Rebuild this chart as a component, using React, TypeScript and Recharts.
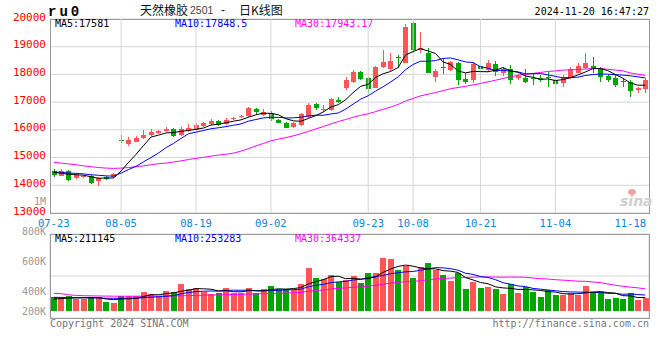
import React from 'react';
import { ComposedChart, Bar, Line, XAxis, YAxis, ReferenceArea, ReferenceLine, CartesianGrid } from 'recharts';

const dates = ['07-23','07-24','07-25','07-26','07-29','07-30','07-31','08-01','08-02','08-05','08-06','08-07','08-08','08-09','08-12','08-13','08-14','08-15','08-16','08-19','08-20','08-21','08-22','08-23','08-26','08-27','08-28','08-29','08-30','09-02','09-03','09-04','09-05','09-06','09-09','09-10','09-11','09-12','09-13','09-18','09-19','09-20','09-23','09-24','09-25','09-26','09-27','09-30','10-08','10-09','10-10','10-11','10-14','10-15','10-16','10-17','10-18','10-21','10-22','10-23','10-24','10-25','10-28','10-29','10-30','10-31','11-01','11-04','11-05','11-06','11-07','11-08','11-11','11-12','11-13','11-14','11-15','11-18','11-19','11-20'];

const opens = [14520,14350,14530,14260,14300,14330,14150,14300,14270,15630,15490,15573,15717,15814,15880,15959,16031,15800,15984,15995,16139,16211,16330,16211,16391,16453,16500,16741,16536,16619,16355,16258,16092,16175,16453,16920,16700,16716,17080,17499,17701,18098,17860,17535,18279,18207,18618,18423,19866,18900,18784,17896,18257,18160,18400,17846,17799,18304,18185,18365,18062,18185,17860,17882,17870,17870,17900,17799,17680,17860,18062,18220,18320,18243,17954,17860,17780,17737,17438,17463];
const highs = [14600,14580,14550,14450,14380,14370,14300,14330,14430,15814,15753,15778,15995,16020,15995,16103,16067,16114,16211,16258,16294,16381,16350,16440,16460,16547,16835,16800,16741,16680,16380,16290,16280,16600,16960,16970,16900,17140,17200,17918,18160,18123,17918,18290,18881,18762,18700,19820,19902,19541,18942,18196,18582,18500,18459,18040,18437,18340,18520,18484,18280,18340,18000,18185,18040,17980,18100,17900,17980,18257,18423,18762,18640,18280,18015,17979,17860,17799,17535,17860];
const lows = [14300,14320,14170,14220,14280,14040,13970,14200,14250,15515,15428,15544,15681,15778,15850,15912,15753,15767,15933,15959,16092,16175,16150,16180,16340,16420,16480,16572,16500,16330,16230,16060,16070,16150,16420,16700,16650,16680,16960,17438,17680,17799,17294,17500,18220,18134,18220,18400,18756,18762,18040,17737,18015,18130,17618,17654,17701,17860,18098,17943,17950,17654,17800,17680,17618,17740,17535,17438,17535,17840,18040,18200,18040,17737,17737,17535,17535,17175,17319,17340];
const closes = [14370,14530,14190,14380,14350,14080,14270,14230,14390,15623,15634,15717,15814,15922,15959,16031,15790,16031,16078,16175,16258,16330,16175,16355,16440,16500,16800,16620,16655,16391,16258,16092,16236,16572,16897,16777,16750,17100,17020,17800,18076,17860,17463,18279,18448,18484,18582,19722,18900,18960,18062,18123,18206,18448,17773,17737,18365,18185,18423,18062,18196,17773,17943,17737,17840,17810,17860,17654,17896,18185,18304,18400,18260,17918,17799,17618,17730,17412,17499,17799];

const ma5 = [14470,14430,14400,14380,14364,14306,14254,14262,14264,14519,14829,15119,15436,15742,15809,15889,15903,15947,15978,16021,16066,16174,16203,16259,16312,16360,16454,16543,16603,16593,16545,16403,16326,16310,16411,16515,16646,16819,16909,17089,17349,17571,17644,17896,18025,18107,18251,18703,18827,18930,18845,18753,18450,18360,18122,18057,18106,18102,18097,18154,18246,18128,18079,17942,17898,17821,17838,17780,17812,17881,17980,18088,18209,18213,18136,17999,17865,17695,17612,17612];
const ma10 = [14480,14470,14440,14430,14410,14380,14360,14340,14330,14441,14568,14686,14849,15003,15164,15359,15511,15691,15860,15915,15978,16039,16075,16118,16166,16213,16314,16373,16431,16452,16452,16429,16435,16456,16502,16530,16525,16573,16609,16750,16932,17109,17232,17402,17557,17728,17911,18173,18361,18477,18476,18502,18577,18594,18526,18451,18430,18276,18228,18138,18152,18117,18091,18019,18026,18033,17983,17930,17877,17889,17900,17963,17995,18013,18009,17989,17976,17952,17913,17874];
const ma30 = [14830,14800,14770,14740,14700,14670,14640,14620,14610,14620,14640,14670,14700,14740,14780,14800,14840,14880,14930,14970,15010,15050,15090,15120,15160,15230,15320,15420,15510,15603,15666,15718,15786,15859,15944,16034,16117,16212,16300,16373,16454,16525,16580,16659,16742,16824,16917,17040,17134,17227,17287,17347,17414,17484,17528,17570,17622,17674,17733,17789,17853,17909,17966,18005,18036,18071,18108,18126,18156,18168,18176,18194,18221,18209,18187,18158,18130,18053,18006,17967];

// volumes in thousands
const volumes = [237,237,265,202,202,237,237,161,144,260,260,260,334,294,260,351,334,467,381,403,334,300,317,403,317,317,403,317,381,433,381,381,363,467,749,576,554,623,507,536,606,490,663,663,922,900,709,779,566,767,825,709,623,524,652,381,507,403,415,381,294,467,311,420,334,247,363,277,277,306,277,433,334,334,213,230,213,317,190,220];
const vma5 = [208,215,222,226,228.6,228.6,228.6,207.8,196.2,207.8,212.4,217,251.6,281.6,281.6,299.8,314.6,341.2,358.6,387.2,383.8,377,347,351.4,334.2,330.8,351.4,351.4,347,370.2,383,378.6,387.8,405,468.2,507.2,541.8,593.8,601.8,559.2,565.2,552.4,560.4,591.6,668.8,727.6,771.4,794.6,775.2,744.2,729.2,729.2,698,689.6,666.6,577.8,537.4,493.4,471.6,417.4,400,392,373.6,374.6,365.2,355.8,335,328.2,299.6,294,300,314,325.4,336.8,318.2,308.8,264.8,261.4,232.6,234];
const vma10 = [237,235,233,232,230,228,226,222,219,218.2,220.5,222.8,229.7,238.9,244.7,256.1,265.8,296.4,320.1,334.4,341.8,345.8,344.1,355,360.7,357.3,364.2,349.2,349.2,352.2,356.9,365,369.6,376,419.2,445.1,460.2,490.8,503.4,513.7,536.2,547.1,577.1,596.7,614,646.4,661.9,677.5,683.4,706.5,728.4,750.3,746.3,732.4,705.4,653.5,633.3,595.7,580.6,542,488.9,464.7,433.5,423.1,391.3,377.9,363.5,350.9,337.1,329.6,327.9,324.5,326.8,318.2,306.1,304.4,289.4,293.4,284.7,276.1];
const vma30 = [306,300,280,270,265,262,260,258,256,256,256,256,257,258,258,259,260,263,266,270,273,276,279,282,285,288,292,295,298,301.6,306.4,311.2,314.5,323.3,341.5,352.8,363.4,378.8,390.9,400.1,411.6,419.3,430.3,442.6,464.6,482.9,495.4,505.8,512,524.1,540.5,554.1,564.3,568.4,579.5,581.7,585.1,588,589.1,587.4,584.5,587.4,585.6,584.1,570.2,559.3,552.9,541.4,533.7,526,515.1,513.2,502.2,491.2,467.6,445.3,428.7,413.3,400.8,382.6];

const priceTicks = [13000,14000,15000,16000,17000,18000,19000,20000];
const dateLabels = ['07-23','08-05','08-19','09-02','09-23','10-08','10-21','11-04','11-18'];
const gridDates = ['08-05','08-19','09-02','09-23','10-08','10-21','11-04'];
const volTickValues = [200,400,600,800,1000];
const volTickLabels = ['200K','400K','600K','800K','1M'];
const volGridTicks = [0,1,2,3,4];

const data = dates.map((d, i) => ({
  date: d,
  open: opens[i], high: highs[i], low: lows[i], close: closes[i],
  range: [lows[i], highs[i]],
  ma5: ma5[i], ma10: ma10[i], ma30: ma30[i],
  vol: volumes[i], vma5: vma5[i], vma10: vma10[i], vma30: vma30[i],
}));

const RED = '#ff5555';
const GREEN = '#00a600';
const MONO = '"DejaVu Sans Mono", monospace';
const GRIDC = '#d6d6d6';
const BORDER = '#999999';

const Candle = (p: any) => {
  const { x, y, width, height, payload } = p;
  const { open, close, high, low } = payload;
  const color = close >= open ? RED : GREEN;
  const top = Math.min(y, y + height);
  const bot = Math.max(y, y + height);
  const ratio = high === low ? 0 : (bot - top) / (high - low);
  const cx = Math.round(x + width / 2) + 0.5;
  const yO = top + (high - open) * ratio;
  const yC = top + (high - close) * ratio;
  const bTop = Math.round(Math.min(yO, yC));
  const bH = Math.max(1, Math.round(Math.abs(yO - yC)));
  return (
    <g>
      <line x1={cx} x2={cx} y1={Math.round(top)} y2={Math.round(bot)} stroke={color} strokeWidth={1} />
      <rect x={cx - 2.5} y={bTop} width={5} height={bH} fill={color} />
    </g>
  );
};

const VolBar = (p: any) => {
  const { x, y, width, height, payload } = p;
  const color = payload.close >= payload.open ? RED : GREEN;
  const left = Math.round(x + width / 2 - 3);
  const top = Math.round(Math.min(y, y + height));
  const bot = Math.round(Math.max(y, y + height));
  return <rect x={left} y={top} width={6} height={Math.max(0, bot - top)} fill={color} />;
};

const PriceTick = (p: any) => (
  <text x={p.x} y={p.y} dy={-2} textAnchor="end" dominantBaseline="central" fill="#ff0000" fontSize={11} fontFamily={MONO}>
    {p.payload.value}
  </text>
);

const DateTick = (p: any) => (
  <text x={p.x} y={p.y} dy={12} textAnchor="middle" fill="#0a86d6" fontSize={10.5} fontFamily={MONO}>
    {p.payload.value}
  </text>
);

const VolTick = (p: any) => {
  const idx = volTickValues.indexOf(p.payload.value);
  const yy = Math.min(p.y, 311);
  return (
    <text x={p.x} y={yy} textAnchor="end" dominantBaseline="central" fill="#999999" fontSize={10} fontFamily={MONO}>
      {volTickLabels[idx]}
    </text>
  );
};

export default function App() {
  return (
    <div style={{ position: 'absolute', left: 0, top: 0, width: 660, height: 360, background: '#fff', overflow: 'hidden' }}>
      <div style={{ position: 'absolute', left: 0, top: 0 }}>
        <ComposedChart width={660} height={235} data={data} margin={{ top: 19, right: 11, bottom: 6, left: 0 }} barCategoryGap={0}>
          <CartesianGrid stroke={GRIDC} vertical={false} />
          <XAxis dataKey="date" ticks={dateLabels} interval={0} axisLine={false} tickLine={false} tickSize={0} height={16} tick={DateTick} />
          <YAxis domain={[13000, 20000]} ticks={priceTicks} interval={0} allowDataOverflow width={50} axisLine={false} tickLine={false} tickSize={0} tickMargin={4} tick={PriceTick} />
          {gridDates.map((d) => (
            <ReferenceLine key={`pv${d}`} x={d} stroke={GRIDC} />
          ))}
          <Bar dataKey="range" shape={Candle} isAnimationActive={false} barSize={5} />
          <Line type="linear" dataKey="ma30" stroke="#ff00ff" strokeWidth={1} dot={false} isAnimationActive={false} />
          <Line type="linear" dataKey="ma10" stroke="#0000ff" strokeWidth={1} dot={false} isAnimationActive={false} />
          <Line type="linear" dataKey="ma5" stroke="#000000" strokeWidth={1} dot={false} isAnimationActive={false} />
          <ReferenceArea y1={13000} y2={20000} fill="none" fillOpacity={0} stroke={BORDER} strokeWidth={1} shapeRendering="crispEdges" />
        </ComposedChart>
      </div>
      <div style={{ position: 'absolute', left: 0, top: 0 }}>
        <ComposedChart width={660} height={360} data={data} margin={{ top: 234, right: 11, bottom: 32, left: 0 }} barCategoryGap={0}>
          <CartesianGrid yAxisId="vgrid" stroke={GRIDC} />
          <XAxis dataKey="date" ticks={gridDates} interval={0} axisLine={false} tick={false} tickSize={8} height={10} tickLine={{ stroke: '#c4c4c4' }} />
          <YAxis yAxisId="lab" domain={[220, 780]} ticks={volTickValues} interval={0} allowDataOverflow width={50} axisLine={false} tickLine={false} tickSize={0} tickMargin={4} tick={VolTick} />
          <YAxis yAxisId="vol" domain={[-121, 1332]} allowDataOverflow hide />
          <YAxis yAxisId="vgrid" domain={[0, 4]} ticks={volGridTicks} allowDataOverflow hide />
          <Bar yAxisId="vol" dataKey="vol" shape={VolBar} isAnimationActive={false} barSize={6} />
          <Line yAxisId="vol" type="linear" dataKey="vma30" stroke="#ff00ff" strokeWidth={1} dot={false} isAnimationActive={false} />
          <Line yAxisId="vol" type="linear" dataKey="vma10" stroke="#0000ff" strokeWidth={1} dot={false} isAnimationActive={false} />
          <Line yAxisId="vol" type="linear" dataKey="vma5" stroke="#000000" strokeWidth={1} dot={false} isAnimationActive={false} />
          <ReferenceArea yAxisId="vgrid" y1={0} y2={4} fill="none" fillOpacity={0} stroke={BORDER} strokeWidth={1} shapeRendering="crispEdges" />
        </ComposedChart>
      </div>
      <svg width={660} height={360} style={{ position: 'absolute', left: 0, top: 0, pointerEvents: 'none' }}>
        <text x={48} y={16} fontFamily='"Liberation Mono", monospace' fontWeight="bold" fontSize={14} letterSpacing={3} fill="#000">ru0</text>
        <text x={140} y={15} fontFamily='"Noto Sans CJK SC", sans-serif' fontSize={12} fill="#111">天然橡胶</text>
        <text x={190} y={14} fontFamily='"Liberation Sans", sans-serif' fontSize={10.5} fill="#444">2501</text>
        <text x={221} y={14} fontFamily='"Liberation Sans", sans-serif' fontSize={12} fill="#111">-</text>
        <text x={239} y={15} fontFamily='"Noto Sans CJK SC", sans-serif' fontSize={12} fill="#111">日K线图</text>
        <text x={649} y={15} textAnchor="end" fontFamily={MONO} fontSize={10} fill="#000">2024-11-20 16:47:27</text>
        <text x={55} y={27} fontFamily={MONO} fontSize={10} fill="#000">MA5:17581</text>
        <text x={175} y={27} fontFamily={MONO} fontSize={10} fill="#0000ff">MA10:17848.5</text>
        <text x={295} y={27} fontFamily={MONO} fontSize={10} fill="#ff00ff">MA30:17943.17</text>
        <text x={55} y={242} fontFamily={MONO} fontSize={10} fill="#000">MA5:211145</text>
        <text x={175} y={242} fontFamily={MONO} fontSize={10} fill="#0000ff">MA10:253283</text>
        <text x={295} y={242} fontFamily={MONO} fontSize={10} fill="#ff00ff">MA30:364337</text>
        <text x={50} y={327} fontFamily={MONO} fontSize={10} fill="#777">Copyright 2024 SINA.COM</text>
        <text x={649} y={327} textAnchor="end" fontFamily={MONO} fontSize={10} fill="#777">http://finance.sina.com.cn</text>
        <ellipse cx={632} cy={192} rx={4} ry={3} fill="#f2a0a0" />
        <text x={620} y={206} fontFamily='"DejaVu Sans", sans-serif' fontStyle="italic" fontWeight="bold" fontSize={14} fill="#cfcfcf">sina</text>
      </svg>
    </div>
  );
}
